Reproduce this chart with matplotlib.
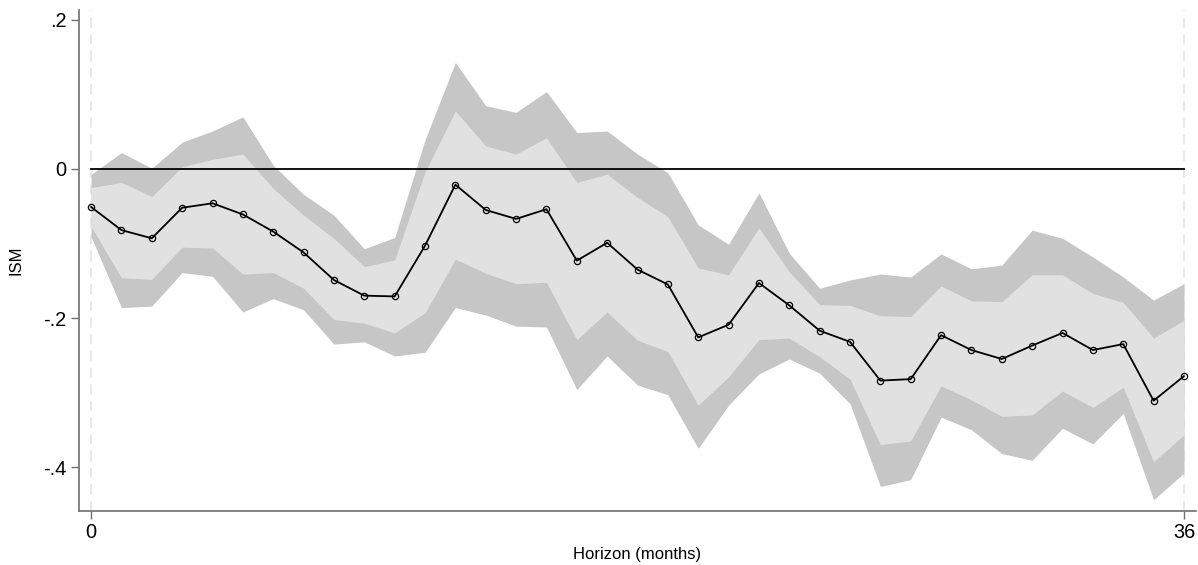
import numpy as np
import matplotlib
matplotlib.use("Agg")
import matplotlib.pyplot as plt

plt.rcParams['font.family'] = ['Liberation Sans', 'DejaVu Sans']

horizon = np.arange(0, 37)

irf = [-0.051, -0.082, -0.093, -0.052, -0.046, -0.061, -0.084, -0.112, -0.149, -0.170,
       -0.171, -0.103, -0.021, -0.055, -0.067, -0.054, -0.123, -0.099, -0.135, -0.155,
       -0.226, -0.209, -0.153, -0.183, -0.217, -0.232, -0.284, -0.282, -0.223, -0.243,
       -0.255, -0.237, -0.220, -0.243, -0.235, -0.311, -0.278]

# wide band (outer)
hi_outer = [-0.007, 0.022, 0.001, 0.036, 0.051, 0.070, 0.005, -0.034, -0.062, -0.107,
            -0.092, 0.039, 0.143, 0.085, 0.076, 0.104, 0.049, 0.051, 0.020, -0.005,
            -0.075, -0.101, -0.032, -0.113, -0.160, -0.149, -0.141, -0.145, -0.114, -0.134,
            -0.129, -0.082, -0.093, -0.118, -0.145, -0.176, -0.154]
lo_outer = [-0.091, -0.186, -0.184, -0.139, -0.144, -0.192, -0.174, -0.189, -0.235, -0.232,
            -0.251, -0.246, -0.186, -0.196, -0.211, -0.212, -0.296, -0.251, -0.290, -0.303,
            -0.375, -0.317, -0.275, -0.255, -0.274, -0.315, -0.426, -0.417, -0.333, -0.350,
            -0.382, -0.391, -0.348, -0.369, -0.328, -0.444, -0.408]

# narrow band (inner)
hi_inner = [-0.025, -0.018, -0.037, 0.003, 0.013, 0.020, -0.026, -0.062, -0.093, -0.131,
            -0.122, -0.004, 0.078, 0.031, 0.020, 0.042, -0.018, -0.007, -0.038, -0.064,
            -0.133, -0.142, -0.079, -0.138, -0.182, -0.183, -0.197, -0.198, -0.157, -0.177,
            -0.178, -0.142, -0.142, -0.167, -0.179, -0.227, -0.203]
lo_inner = [-0.077, -0.146, -0.148, -0.105, -0.106, -0.141, -0.139, -0.160, -0.202, -0.207,
            -0.220, -0.193, -0.121, -0.140, -0.154, -0.152, -0.229, -0.192, -0.230, -0.245,
            -0.317, -0.279, -0.229, -0.227, -0.252, -0.282, -0.370, -0.365, -0.291, -0.310,
            -0.332, -0.330, -0.298, -0.320, -0.293, -0.393, -0.357]

yticks = [0.2, 0, -0.2, -0.4]
ytick_labels = ['.2', '0', '-.2', '-.4']

fig = plt.figure(figsize=(11.98, 5.65), dpi=100)
ax = fig.add_axes([0.0659, 0.0956, 0.9325, 0.8867])

ax.axvline(0, color='#e4e4e4', lw=1.2, ls=(0, (6, 4)), zorder=0)
ax.axvline(36, color='#e4e4e4', lw=1.2, ls=(0, (6, 4)), zorder=0)

ax.fill_between(horizon, lo_outer, hi_outer, color='#c6c6c6', lw=0, zorder=1)
ax.fill_between(horizon, lo_inner, hi_inner, color='#e1e1e1', lw=0, zorder=2)

ax.plot(horizon, np.zeros(len(horizon)), color='black', lw=1.3, zorder=3)
ax.plot(horizon, irf, color='black', lw=1.3, marker='o', ms=4.5,
        mfc='none', mec='black', mew=0.9, zorder=4)

ax.set_xlim(-0.4, 36.4)
ax.set_ylim(-0.459, 0.2134)
ax.set_xticks([0, 36])
ax.set_xticklabels(['0', '36'])
ax.set_yticks(yticks)
ax.set_yticklabels(ytick_labels)

for side in ['top', 'right']:
    ax.spines[side].set_visible(False)
for side in ['left', 'bottom']:
    ax.spines[side].set_color('#707070')
    ax.spines[side].set_linewidth(1.2)
ax.tick_params(axis='both', colors='#707070', labelcolor='black', length=6,
               width=1.0, labelsize=14.4, pad=3)

ax.set_xlabel('Horizon (months)', fontsize=12, labelpad=3)
ax.set_ylabel('ISM', fontsize=12, labelpad=14)

fig.savefig('out.png', dpi=100)
